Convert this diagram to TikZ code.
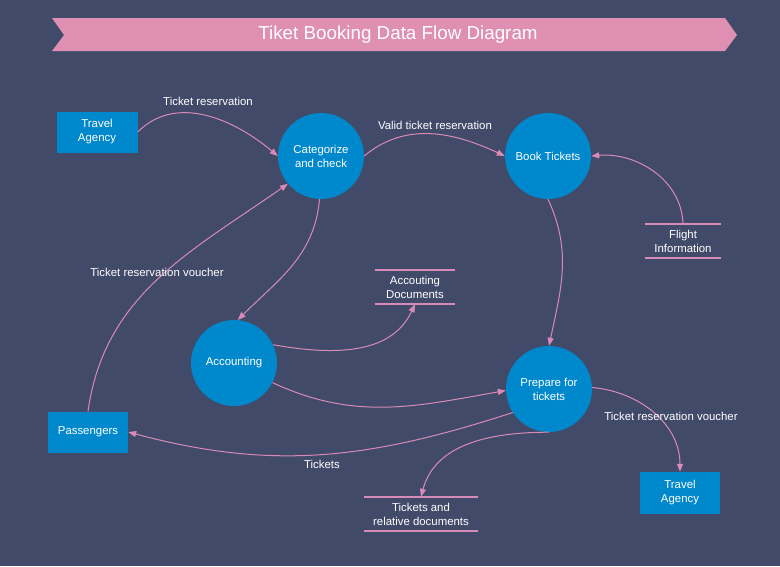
\documentclass[tikz,border=0pt]{standalone}
\usepackage{fontspec}
\setmainfont{Liberation Sans}
\usepackage{xcolor}
\usetikzlibrary{
    positioning,
    shapes.geometric,
    arrows.meta,
    calc
}
\definecolor{bgcol}{HTML}{424A6A}
\definecolor{bannercol}{HTML}{DE8FB2}
\definecolor{flowcol}{HTML}{D98AB8}
\definecolor{proccol}{HTML}{0088CC}

\begin{document}
\begin{tikzpicture}[x=1pt,y=-1pt,
  every node/.style={font=\fontsize{11.4}{14}\selectfont, text=white, align=center},
  process/.style={circle, fill=proccol, minimum size=86pt, inner sep=0pt},
  entity/.style={rectangle, fill=proccol, minimum width=80pt, minimum height=41pt, inner sep=0pt},
  store/.style={rectangle, minimum height=34pt, inner sep=0pt},
  flow/.style={draw=flowcol, line width=1pt, -{Triangle[length=8pt,width=6pt]}},
  lbl/.style={inner sep=1pt}]
\fill[bgcol] (0,0) rectangle (780,566);
\useasboundingbox (0,0) rectangle (780,566);

% title banner
\fill[bannercol] (52,18) -- (725,18) -- (737,35) -- (725,51) -- (52,51) -- (64,35) -- cycle;
\node[font=\fontsize{18.8}{22}\selectfont] (title) at (398,35) {Tiket Booking Data Flow Diagram};

% processes
\node[process] (cat) at (321,156) {Categorize\\and check};
\node[process] (book) at (548,156) {Book Tickets};
\node[process] (acc) at (234,363) {Accounting};
\node[process] (prep) at (549,389) {Prepare for\\tickets};

% external entities
\node[entity, minimum width=81pt] (agency1) at (97,132) {Travel\\Agency};
\node[entity] (pass) at (88,432) {Passengers};
\node[entity, minimum height=42pt] (agency2) at (680,493) {Travel\\Agency};

% data stores
\node[store, minimum width=75pt] (flight) at (683,241) {Flight\\Information};
\node[store, minimum width=80pt] (accdoc) at (415,287) {Accouting\\Documents};
\node[store, minimum width=113pt] (tickdoc) at (421,514) {Tickets and\\relative documents};
\foreach \s in {flight,accdoc,tickdoc} {
  \draw[flowcol, line width=2pt] (\s.north west) -- (\s.north east);
  \draw[flowcol, line width=2pt] (\s.south west) -- (\s.south east);
}

% flows
\draw[flow] (agency1.east) to[out=45, in=140] (cat.west);
\draw[flow] (cat.east) to[out=40, in=155] (book.west);
\draw[flow] (flight.north) to[out=92, in=5] (book.east);
\draw[flow] (book.270) to[out=-65, in=78] (prep.north);
\draw[flow] (cat.268) to[out=-95, in=45] (acc.85);
\draw[flow] (acc.25) to[out=-10, in=-115] (accdoc.south);
\draw[flow] (acc.-27) to[out=-25, in=190] (prep.182);
\draw[flow] (prep.213) to[out=-162, in=-15] (pass.east);
\draw[flow] (prep.270) to[out=180, in=75] (tickdoc.north);
\draw[flow] (prep.2) to[out=-5, in=90] (agency2.north);
\draw[flow] (pass.north) to[out=82, in=-145] (cat.220);

% flow labels
\node[lbl] (l1) at (208,101) {Ticket reservation};
\node[lbl] (l2) at (435,125) {Valid ticket reservation};
\node[lbl] (l3) at (157,272) {Ticket reservation voucher};
\node[lbl] (l4) at (322,464) {Tickets};
\node[lbl] (l5) at (671,416) {Ticket reservation voucher};
\end{tikzpicture}
\end{document}
